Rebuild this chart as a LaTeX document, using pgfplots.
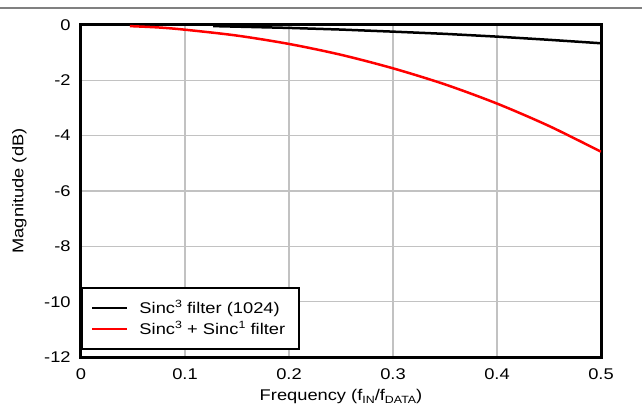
\documentclass[border=0pt]{standalone}
\usepackage{fontspec}
\setmainfont{Liberation Sans}[FakeStretch=1.18]
\usepackage{pgfplots}
\pgfplotsset{compat=1.18}
\newcommand{\sups}[1]{\raisebox{0.42em}{\fontsize{10.5pt}{10.5pt}\selectfont #1}}
\newcommand{\subs}[1]{\raisebox{-0.2em}{\fontsize{10.5pt}{10.5pt}\selectfont #1}}
\begin{document}
\fontsize{15.5pt}{18pt}\selectfont
\begin{tikzpicture}[x=1pt,y=1pt]
\useasboundingbox (-81,-50) rectangle (561,357);
\draw[line width=2pt,color=gray] (-81,349) -- (561,349);
\begin{axis}[
  at={(0,0)}, anchor=south west,
  scale only axis, width=520pt, height=332pt,
  xmin=0, xmax=0.5, ymin=-12, ymax=0,
  xtick={0,0.1,...,0.5}, ytick={-12,-10,...,0},
  xticklabels={0,0.1,0.2,0.3,0.4,0.5},
  major tick length=0pt,
  grid=major,
  grid style={color=black!24, line width=1.2pt},
  axis line style={line width=3pt},
  /pgf/number format/assume math mode=true,
  ticklabel style={font=\fontsize{15.5pt}{18pt}\selectfont},
  xticklabel style={yshift=-6pt},
  yticklabel style={xshift=-5pt},
  xlabel={Frequency (f\subs{IN}/f\subs{DATA})},
  ylabel={Magnitude (dB)},
  xlabel style={at={(axis description cs:0.5,-0.131)}, anchor=base},
  ylabel style={at={(axis description cs:-0.0942,0.5)}, anchor=south},
  legend style={at={(0,0.021)}, anchor=south west, draw=black, line width=2pt,
    font=\fontsize{15.5pt}{18pt}\selectfont, inner xsep=9pt, inner ysep=10pt,
    row sep=1pt, text width=148pt},
  legend cell align=left,
  legend image code/.code={\draw[#1, line width=2.5pt] (0pt,0pt) -- (35pt,0pt); \path (44pt,0pt);},
]
\addplot[black, line width=2.5pt] coordinates {
(0.127,-0.04) (0.15,-0.06) (0.2,-0.105) (0.25,-0.165) (0.3,-0.24)
(0.35,-0.32) (0.4,-0.42) (0.45,-0.535) (0.5,-0.66)};
\addlegendentry{Sinc\sups{3} filter (1024)}
\addplot[red, line width=2.5pt, smooth] coordinates {
(0.047,-0.04) (0.075,-0.09) (0.1,-0.17) (0.15,-0.383) (0.2,-0.685) (0.25,-1.077)
(0.3,-1.566) (0.35,-2.147) (0.4,-2.84) (0.45,-3.65) (0.5,-4.58)};
\addlegendentry{Sinc\sups{3} + Sinc\sups{1} filter}
\end{axis}
\end{tikzpicture}
\end{document}
